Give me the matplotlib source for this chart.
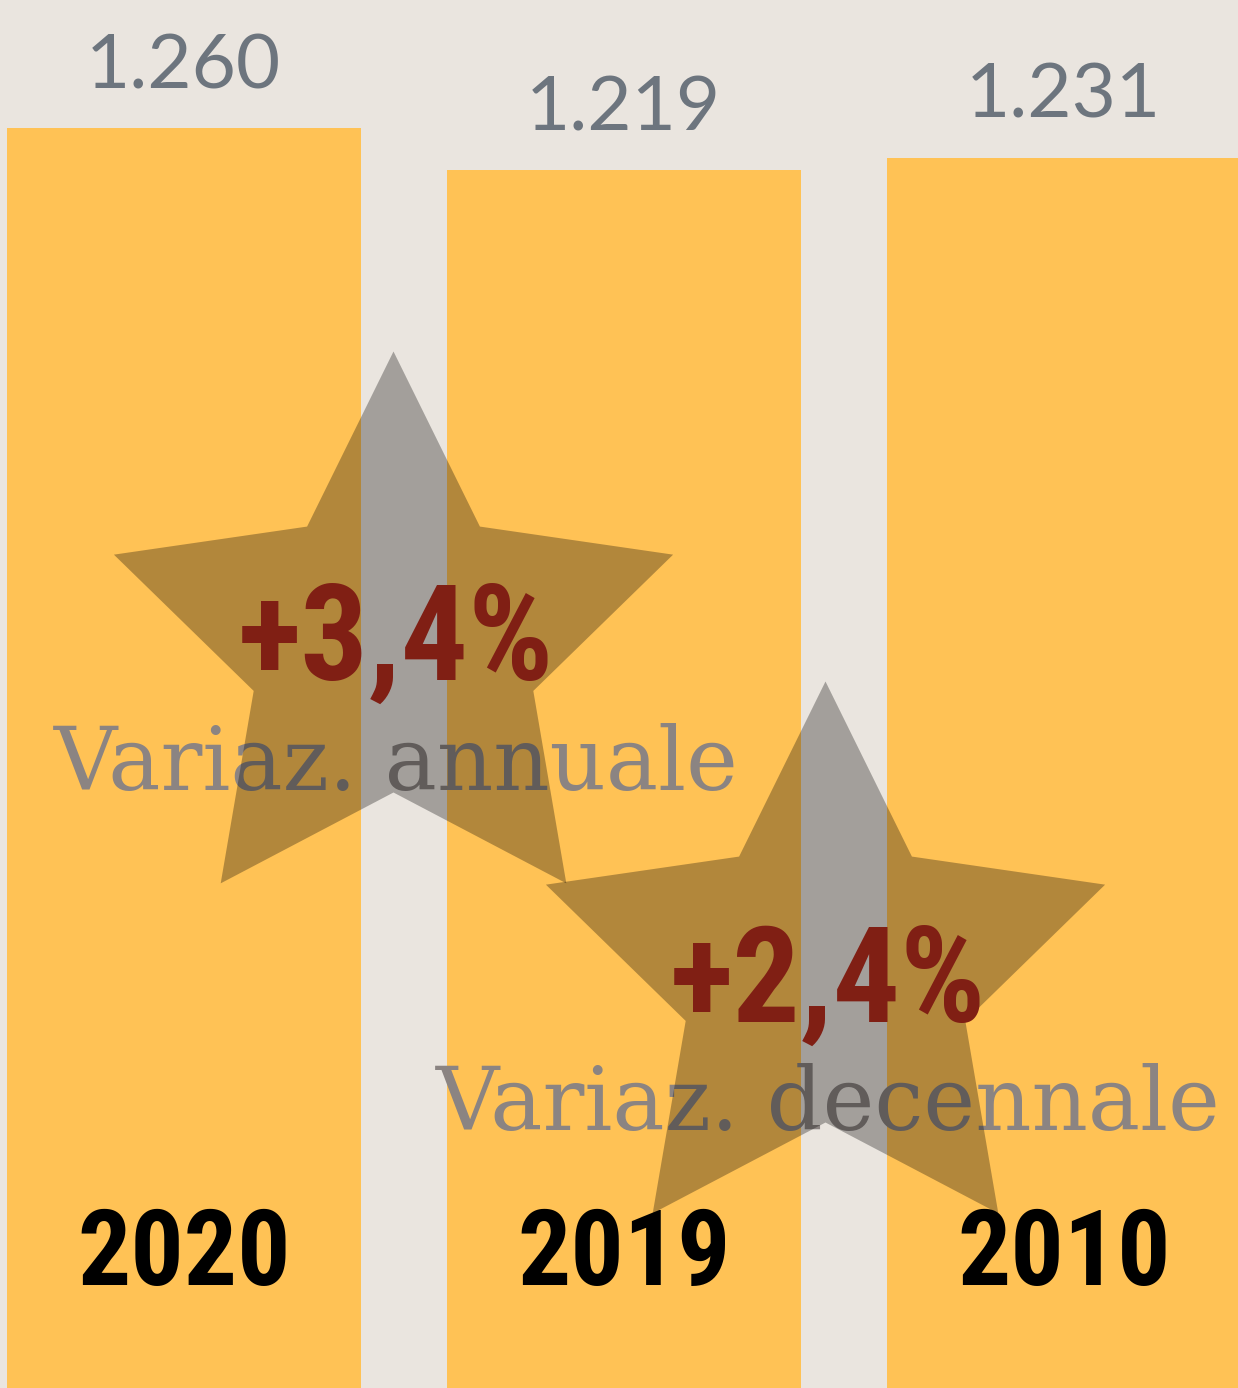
import numpy as np
import matplotlib
matplotlib.use("Agg")
import matplotlib.pyplot as plt
from matplotlib.path import Path
from matplotlib import font_manager

years = ["2020", "2019", "2010"]
values = [1260, 1219, 1231]
value_labels = ["1.260", "1.219", "1.231"]
changes = ["+3,4%", "+2,4%"]
change_labels = ["Variaz. annuale", "Variaz. decennale"]

BG = "#EAE5DF"
BAR = "#FFC255"

installed = {f.name for f in font_manager.fontManager.ttflist}


def pick(names, default):
    for n in names:
        if n in installed:
            return n
    return default


COND = pick(["Roboto Condensed", "Liberation Sans Narrow", "Open Sans Condensed",
             "DejaVu Sans"], "DejaVu Sans")
SLAB = pick(["Roboto Slab", "DejaVu Serif"], "DejaVu Serif")


def star_path(inner=0.5):
    ang = np.pi / 2 + np.arange(10) * np.pi / 5
    rad = np.where(np.arange(10) % 2 == 0, 1.0, inner)
    verts = np.column_stack([rad * np.cos(ang), rad * np.sin(ang)])
    verts = np.vstack([verts, verts[:1]])
    codes = [Path.MOVETO] + [Path.LINETO] * 9 + [Path.CLOSEPOLY]
    return Path(verts, codes)


fig = plt.figure(figsize=(12.38, 13.88), dpi=100, facecolor=BG)
ax = fig.add_axes([0, 0, 1, 1])
ax.set_facecolor(BG)

x = np.arange(len(years))
ax.bar(x, values, width=0.805, color=BAR, zorder=1)
ax.set_xlim(-0.418, 2.395)
ax.set_ylim(29.5, 1385)
ax.axis("off")

for xi, v, lab in zip(x, values, value_labels):
    ax.text(xi - 0.002, v + 39, lab, ha="center", va="baseline", fontsize=55,
            family="Lato", color="#6D757E", zorder=4)

for xi, yr in zip(x, years):
    ax.text(xi, 130, yr, ha="center", va="baseline", fontsize=76,
            family=COND, fontweight="bold", stretch="condensed", color="black", zorder=4)

# stars between the bars (axes fraction positions)
star_pos = [(0.3175, 0.5353), (0.6664, 0.2976)]
pct_pos = [(0.320, 0.5101), (0.669, 0.2637)]
lab_pos = [(0.320, 0.4308), (0.669, 0.1859)]
ms = 2 * 294 / 100 * 72

# labels sit under the stars, the percentages above them
for (lx, ly), lab in zip(lab_pos, change_labels):
    ax.text(lx, ly, lab, transform=ax.transAxes, ha="center",
            va="baseline", fontsize=63, family=SLAB,
            color="#8B8482", zorder=2)

for (sx, sy) in star_pos:
    ax.scatter([sx], [sy], s=ms ** 2, marker=star_path(0.5), color="black",
               alpha=0.3, linewidths=0, transform=ax.transAxes, zorder=3)

for (px, py), ch in zip(pct_pos, changes):
    ax.text(px, py, ch, transform=ax.transAxes, ha="center",
            va="baseline", fontsize=96, family=COND, fontweight="bold",
            stretch="condensed", color="#801F14", zorder=5)

fig.savefig("out.png", dpi=100, facecolor=BG)
